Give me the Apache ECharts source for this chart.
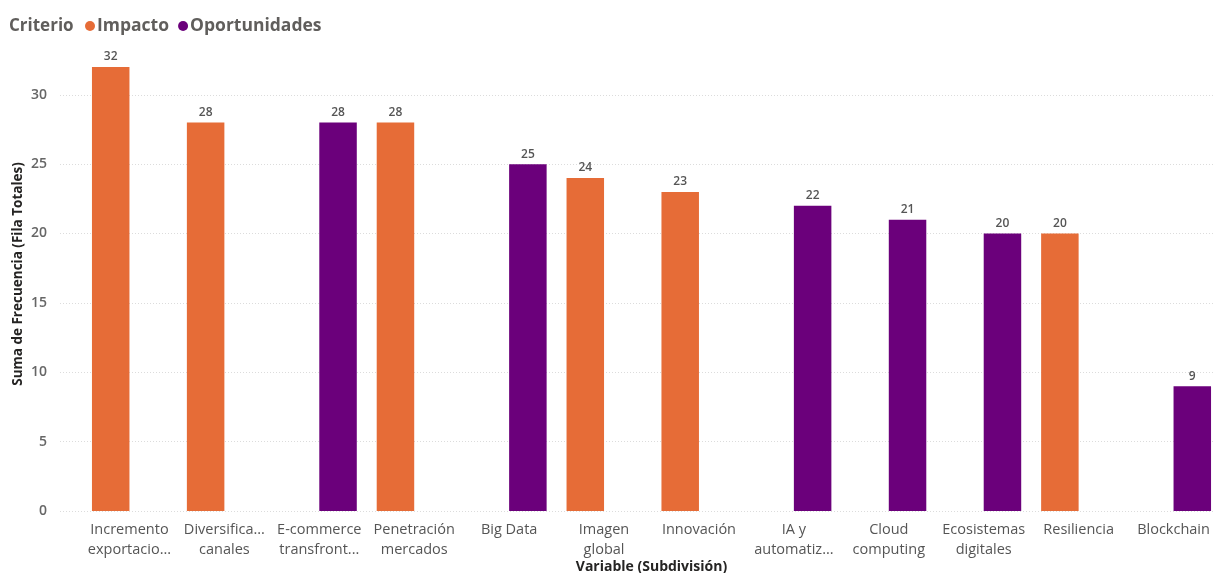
<!DOCTYPE html>
<html>
<head>
<meta charset="utf-8">
<script src="https://cdn.jsdelivr.net/npm/echarts@6/dist/echarts.min.js"></script>
<style>
html,body{margin:0;padding:0;background:#fff;}
#chart{width:1214px;height:573px;}
</style>
</head>
<body>
<div id="chart"></div>
<script>
var categories = [
  "Incremento\nexportacio...", "Diversifica...\ncanales", "E-commerce\ntransfront...",
  "Penetración\nmercados", "Big Data", "Imagen\nglobal", "Innovación",
  "IA y\nautomatiz...", "Cloud\ncomputing", "Ecosistemas\ndigitales",
  "Resiliencia", "Blockchain"
];
var impacto =       [32, 28, null, 28, null, 24, 23, null, null, null, 20, null];
var oportunidades = [null, null, 28, null, 25, null, null, 22, 21, 20, null, 9];
var yMin = 0, yMax = 32, yStep = 5;

var FONT = '"Open Sans", "Noto Sans", sans-serif';
var chart = echarts.init(document.getElementById('chart'));
var labelStyle = {show: true, position: 'top', distance: 4, color: '#555', fontSize: 12, fontWeight: 600, fontFamily: FONT};
chart.setOption({
  animation: false,
  textStyle: {fontFamily: FONT},
  graphic: [
    {type: 'text', x: 9, y: 26, style: {text: 'Criterio', fill: '#605E5C', font: 'bold 17px ' + FONT, verticalAlign: 'middle'}},
    {type: 'text', x: 18, y: 274, rotation: Math.PI / 2, style: {text: 'Suma de Frecuencia (Fila Totales)', fill: '#252423', font: 'bold 13.5px ' + FONT, align: 'center', verticalAlign: 'middle'}}
  ],
  legend: {
    left: 80, top: 12, icon: 'circle', itemWidth: 10, itemHeight: 10, itemGap: 9,
    textStyle: {color: '#605E5C', fontSize: 17.5, fontWeight: 'bold', fontFamily: FONT, padding: [0, 0, 0, -3]},
    data: ['Impacto', 'Oportunidades']
  },
  grid: [
    {left: 82, right: -7, top: 67, bottom: 62, outerBoundsMode: 'none', containLabel: false},
    {left: 60, right: 0, top: 67, bottom: 62, outerBoundsMode: 'none', containLabel: false}
  ],
  xAxis: [
    {
      type: 'category', gridIndex: 0, data: categories,
      axisLine: {show: false}, axisTick: {show: false},
      axisLabel: {color: '#555', fontSize: 14.5, lineHeight: 20, margin: 9, fontFamily: FONT, interval: 0},
      name: 'Variable (Subdivisión)', nameLocation: 'middle', nameGap: 49, nameMoveOverlap: false,
      nameTextStyle: {color: '#252423', fontSize: 14, fontWeight: 'bold', fontFamily: FONT}
    },
    {type: 'value', gridIndex: 1, show: false, min: 0, max: 1}
  ],
  yAxis: [
    {type: 'value', gridIndex: 0, min: yMin, max: yMax, interval: yStep, show: false, splitLine: {show: false}},
    {
      type: 'value', gridIndex: 1, min: yMin, max: yMax, interval: yStep,
      axisLine: {show: false}, axisTick: {show: false},
      axisLabel: {color: '#666', fontSize: 14, fontWeight: 600, margin: 13, fontFamily: FONT, showMaxLabel: false},
      splitLine: {show: true, showMaxLine: false, lineStyle: {color: '#dcdcdc', type: [1, 2], width: 1}}
    }
  ],
  series: [
    {name: 'Impacto', type: 'bar', xAxisIndex: 0, yAxisIndex: 0, data: impacto, barWidth: 37.5, barGap: '0%',
      itemStyle: {color: '#E66C37'}, label: labelStyle},
    {name: 'Oportunidades', type: 'bar', xAxisIndex: 0, yAxisIndex: 0, data: oportunidades, barWidth: 37.5, barGap: '0%',
      itemStyle: {color: '#6B007B'}, label: labelStyle}
  ]
});
</script>
</body>
</html>
